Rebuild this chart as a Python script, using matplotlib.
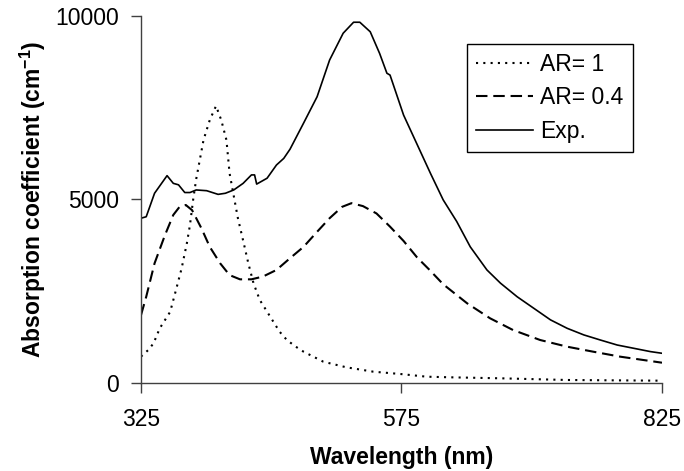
import matplotlib
matplotlib.use("Agg")
from matplotlib import pyplot as plt

plt.rcParams['font.family'] = ['Liberation Sans', 'DejaVu Sans']
plt.rcParams['mathtext.fontset'] = 'custom'
plt.rcParams['mathtext.rm'] = 'Liberation Sans'
plt.rcParams['mathtext.bf'] = 'Liberation Sans:bold'

# experimental spectrum
exp_wl = [325, 330, 338, 350, 356, 361, 367, 372, 378, 388, 399, 406, 414, 423,
          431, 434, 436, 446, 455, 462, 468, 481, 494, 506, 519, 529, 535, 545,
          554, 561, 564, 577, 590, 603, 615, 628, 641, 657, 670, 686, 702, 718,
          734, 750, 766, 782, 798, 814, 825]
exp_val = [4490, 4530, 5170, 5650, 5440, 5400, 5190, 5190, 5260, 5240, 5140, 5170,
           5260, 5440, 5670, 5670, 5420, 5580, 5940, 6120, 6370, 7080, 7800, 8800,
           9530, 9830, 9830, 9570, 8980, 8440, 8390, 7300, 6500, 5700, 4990, 4400,
           3710, 3080, 2720, 2350, 2035, 1720, 1490, 1310, 1170, 1035, 945, 855, 810]

# calculated, aspect ratio 0.4
ar04_wl = [325, 330, 338, 348, 356, 362, 368, 374, 383, 391, 401, 410, 420, 431,
           442, 455, 468, 481, 494, 506, 518, 527, 538, 551, 564, 577, 590, 602,
           615, 638, 660, 682, 708, 734, 759, 785, 807, 825]
ar04_val = [1850, 2350, 3260, 4030, 4580, 4800, 4850, 4710, 4215, 3710, 3260, 2940,
            2825, 2825, 2900, 3080, 3400, 3710, 4120, 4490, 4800, 4900, 4820, 4620,
            4260, 3870, 3420, 3079, 2690, 2171, 1763, 1444, 1172, 989, 853, 717,
            627, 553]

# calculated, aspect ratio 1
ar1_wl = [325, 332, 337, 343, 353, 359, 364, 369, 372, 375, 378, 382, 385, 391,
          397, 402, 407, 410, 414, 418, 424, 428, 433, 439, 449, 458, 465, 473,
          481, 500, 522, 548, 574, 599, 622, 670, 734, 825]
ar1_val = [720, 900, 1080, 1490, 1940, 2580, 3125, 3806, 4305, 4986, 5560, 6166,
           6621, 7166, 7550, 7166, 6621, 5714, 5100, 4490, 3760, 3261, 2716, 2262,
           1807, 1398, 1172, 1000, 853, 580, 428, 308, 245, 172, 155, 128, 82, 63]

fs = 16.5

fig = plt.figure(figsize=(6.84, 4.71), dpi=100)
ax = fig.add_axes([141/684, 1 - 383/471, 521/684, 367/471])

ax.plot(ar1_wl, ar1_val, color='black', lw=1.5, ls=(0, (1, 2.5)), label='AR= 1')
ax.plot(ar04_wl, ar04_val, color='black', lw=1.5, ls=(0, (5.5, 2.8)), label='AR= 0.4')
ax.plot(exp_wl, exp_val, color='black', lw=1.2, label='Exp.')

ax.set_xlim(325, 825)
ax.set_ylim(0, 10000)
ax.set_xticks([325, 575, 825])
ax.set_yticks([0, 5000, 10000])
ax.tick_params(direction='out', length=7, width=1, labelsize=fs, color='#404040')
ax.tick_params(axis='x', pad=11)
ax.tick_params(axis='y', pad=9)
for s in ['top', 'right']:
    ax.spines[s].set_visible(False)
for s in ['left', 'bottom']:
    ax.spines[s].set_color('#404040')
    ax.spines[s].set_linewidth(1)

ax.set_xlabel('Wavelength (nm)', fontsize=fs, fontweight='bold', labelpad=11)
ax.set_ylabel(r'Absorption coefficient (cm$^{\mathbf{-1}}$)', fontsize=fs,
              fontweight='bold', labelpad=5)

leg = ax.legend(loc='upper left', bbox_to_anchor=(467/684, 1 - 44/471),
                bbox_transform=fig.transFigure, fontsize=fs, fancybox=False,
                framealpha=1, edgecolor='black', handlelength=2.5,
                handletextpad=0.3, borderpad=0.4, labelspacing=0.45,
                borderaxespad=0)
leg.get_frame().set_linewidth(1)

fig.savefig('out.png', dpi=100)
